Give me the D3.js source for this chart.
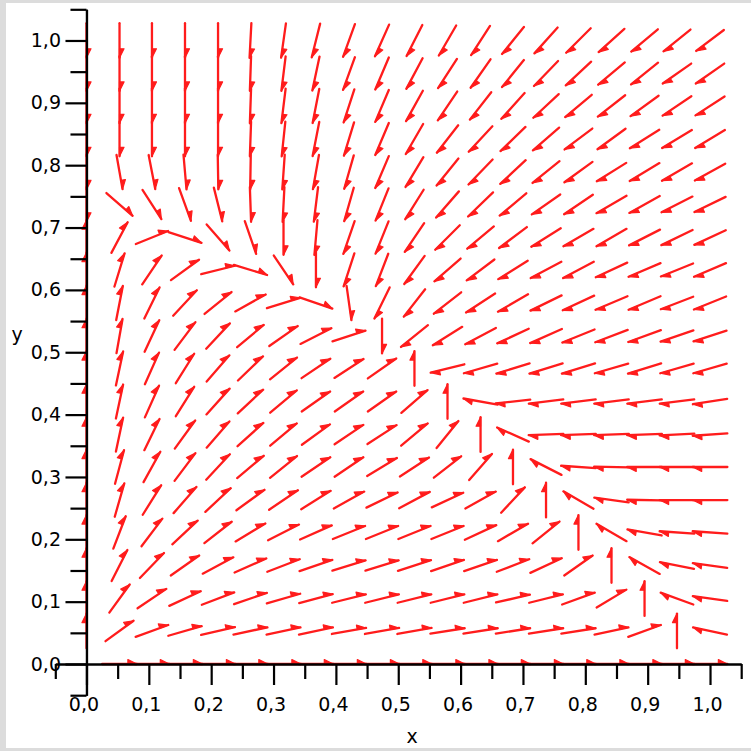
<!DOCTYPE html>
<html lang="fr">
<head>
    <meta charset="UTF-8">
    <title>Champ de directions</title>
    <style>
        html, body { margin: 0; padding: 0; background: #dcdcdc; }
        svg { display: block; }
        text { font-family: "DejaVu Sans", sans-serif; }
    </style>
</head>
<body>
    <script src="https://cdn.jsdelivr.net/npm/d3@7"></script>
    <script>
        // points de la grille (les memes en x et en y)
        const gridValues = [0, 0.053, 0.105, 0.158, 0.211, 0.263, 0.316, 0.368, 0.421, 0.474,
                            0.526, 0.579, 0.632, 0.684, 0.737, 0.789, 0.842, 0.895, 0.947, 1.0];

        // direction de chaque fleche en degres (0 = vers la droite, 90 = vers le haut)
        // lignes : de y = 1,0 (en haut) jusqu'a y = 0,0 ; colonnes : de x = 0,0 a x = 1,0
        const angles = [
            [-90, -90, -90, -90, -90, -93, -98, -104, -110, -114, -117, -120, -123, -129, -132, -135, -138, -140, -141, -143],
            [-90, -90, -90, -90, -90, -92, -97, -102, -110, -113, -118, -123, -125, -129, -134, -137, -140, -141, -145, -145],
            [-90, -90, -90, -90, -90, -92, -97, -101, -108, -113, -119, -124, -128, -132, -137, -140, -142, -144, -146, -147],
            [-90, -90, -90, -90, -90, -92, -96, -101, -107, -113, -120, -128, -133, -136, -139, -143, -144, -148, -149, -149],
            [-90, -80, -79, -85, -89, -91, -94, -100, -106, -113, -121, -129, -134, -137, -141, -144, -148, -149, -150, -151],
            [-90, -41, -57, -70, -76, -88, -93, -97, -106, -112, -122, -131, -136, -140, -145, -146, -150, -151, -153, -154],
            [90, 62, 22, -18, -49, -71, -90, -95, -109, -112, -124, -135, -140, -143, -148, -150, -150, -153, -154, -155],
            [90, 73, 56, 36, 14, -17, -56, -90, -108, -111, -126, -139, -143, -148, -152, -152, -155, -157, -158, -157],
            [90, 79, 64, 47, 39, 29, 17, -19, -82, -116, -128, -142, -147, -150, -154, -155, -157, -157, -159, -158],
            [90, 80, 65, 53, 47, 40, 35, 27, 18, -90, -141, -148, -152, -155, -156, -158, -159, -160, -161, -162],
            [90, 78, 66, 58, 49, 44, 39, 34, 33, 35, 90, -166, -164, -163, -163, -163, -164, -163, -164, -164],
            [90, 78, 66, 58, 48, 43, 40, 35, 35, 35, 41, 90, 170, -174, -173, -173, -173, -173, -173, -171],
            [90, 78, 64, 54, 49, 42, 40, 36, 34, 33, 40, 51, 90, 156, -178, -178, -178, -178, -177, -176],
            [90, 75, 61, 53, 47, 40, 39, 34, 34, 31, 33, 38, 49, 90, 153, 176, 179, 180, 180, 180],
            [90, 74, 58, 49, 43, 36, 34, 32, 29, 26, 28, 25, 29, 47, 90, 150, 172, 179, 180, 180],
            [90, 69, 53, 43, 38, 31, 27, 24, 22, 22, 22, 22, 25, 30, 39, 90, 150, 170, 176, 176],
            [90, 63, 46, 35, 28, 24, 21, 19, 17, 17, 18, 19, 19, 21, 25, 35, 90, 151, 169, 172],
            [90, 54, 34, 25, 21, 19, 16, 15, 14, 14, 14, 14, 14, 13, 14, 20, 31, 90, 160, 172],
            [90, 36, 20, 16, 13, 12, 12, 12, 10, 10, 10, 9, 9, 9, 9, 9, 12, 20, 90, 168],
            [null, 0, 0, 0, 0, 0, 0, 0, 0, 0, 0, 0, 0, 0, 0, 0, 0, 0, 0, 0]
        ];

        // graduations
        const majorTicks = [0, 0.1, 0.2, 0.3, 0.4, 0.5, 0.6, 0.7, 0.8, 0.9, 1.0];
        const minorTicks = [-0.05, 0.05, 0.15, 0.25, 0.35, 0.45, 0.55, 0.65, 0.75, 0.85, 0.95, 1.05];
        const axisDomain = [-0.05, 1.05];
        const xTitle = "x";
        const yTitle = "y";

        const largeur = 751, hauteur = 751;
        const rouge = "#ff1c1c";

        let canevas = d3.select('body')
            .append('svg')
                .attr('width', largeur)
                .attr('height', hauteur)

        // fond blanc dans le cadre gris
        canevas.append('rect')
            .attr('x', 6)
            .attr('y', 3)
            .attr('width', largeur - 6)
            .attr('height', hauteur - 6)
            .attr('fill', 'white')

        let x = d3.scaleLinear().domain(axisDomain).range([55.3, 741.2]);
        let y = d3.scaleLinear().domain(axisDomain).range([695.2, 9.3]);

        // toutes les fleches ont la meme longueur, un peu plus que le pas de la grille
        const demiLongueur = 1.05 * (gridValues[1] - gridValues[0]) / 2;

        let fleches = [];
        angles.forEach((ligne, i) => {
            let gy = gridValues[gridValues.length - 1 - i];
            ligne.forEach((a, j) => {
                if (a === null) { return }
                let gx = gridValues[j];
                let rad = a * Math.PI / 180;
                let dx = demiLongueur * Math.cos(rad);
                let dy = demiLongueur * Math.sin(rad);
                fleches.push({x1: x(gx - dx), y1: y(gy - dy), x2: x(gx + dx), y2: y(gy + dy)});
            })
        })

        let groupeFleches = canevas.append('g');

        groupeFleches.selectAll('line')
            .data(fleches)
            .enter()
            .append('line')
                .attr('x1', d => d.x1)
                .attr('y1', d => d.y1)
                .attr('x2', d => d.x2)
                .attr('y2', d => d.y2)
                .attr('stroke', rouge)
                .attr('stroke-width', 2.3)
                .attr('stroke-linecap', 'round')

        // demi pointe, du cote gauche du sens de parcours
        groupeFleches.selectAll('path')
            .data(fleches)
            .enter()
            .append('path')
                .attr('d', function(d){
                    let l = Math.hypot(d.x2 - d.x1, d.y2 - d.y1);
                    let ux = (d.x2 - d.x1) / l, uy = (d.y2 - d.y1) / l;
                    let nx = uy, ny = -ux;
                    let bx = d.x2 - 9 * ux, by = d.y2 - 9 * uy;
                    return 'M' + d.x2 + ',' + d.y2 +
                           'L' + (bx + 4.5 * nx) + ',' + (by + 4.5 * ny) +
                           'L' + bx + ',' + by + 'Z';
                })
                .attr('fill', rouge)
                .attr('stroke', rouge)
                .attr('stroke-width', 1.2)
                .attr('stroke-linejoin', 'round')

        const format = d => d3.format('.1f')(d).replace('.', ',');

        // axe des y
        let axeY = canevas.append('g').attr('transform', 'translate(' + x(0) + ',0)');
        axeY.call(d3.axisLeft(y).tickValues(minorTicks).tickSize(16).tickSizeOuter(0).tickFormat(''));
        axeY.append('g').call(d3.axisLeft(y).tickValues(majorTicks).tickSize(21).tickSizeOuter(0).tickPadding(4.5).tickFormat(format));

        // axe des x
        let axeX = canevas.append('g').attr('transform', 'translate(0,' + y(0) + ')');
        axeX.call(d3.axisBottom(x).tickValues(minorTicks).tickSize(15).tickSizeOuter(0).tickFormat(''));
        axeX.append('g').call(d3.axisBottom(x).tickValues(majorTicks).tickSize(21).tickSizeOuter(0).tickPadding(12).tickFormat(format));
        axeX.selectAll('.tick text').attr('dx', -3);

        canevas.selectAll('.domain, .tick line')
            .attr('stroke', 'black')
            .attr('stroke-width', 2.2)
        canevas.selectAll('.tick text')
            .attr('fill', 'black')
            .style('font-size', '19px')
            .style('font-family', '"DejaVu Sans", sans-serif')

        // titres des axes
        canevas.append('text')
            .attr('x', 412)
            .attr('y', 743)
            .attr('text-anchor', 'middle')
            .style('font-size', '19px')
            .text(xTitle)

        canevas.append('text')
            .attr('x', 17)
            .attr('y', 341)
            .attr('text-anchor', 'middle')
            .style('font-size', '19px')
            .text(yTitle)
    </script>
</body>
</html>
